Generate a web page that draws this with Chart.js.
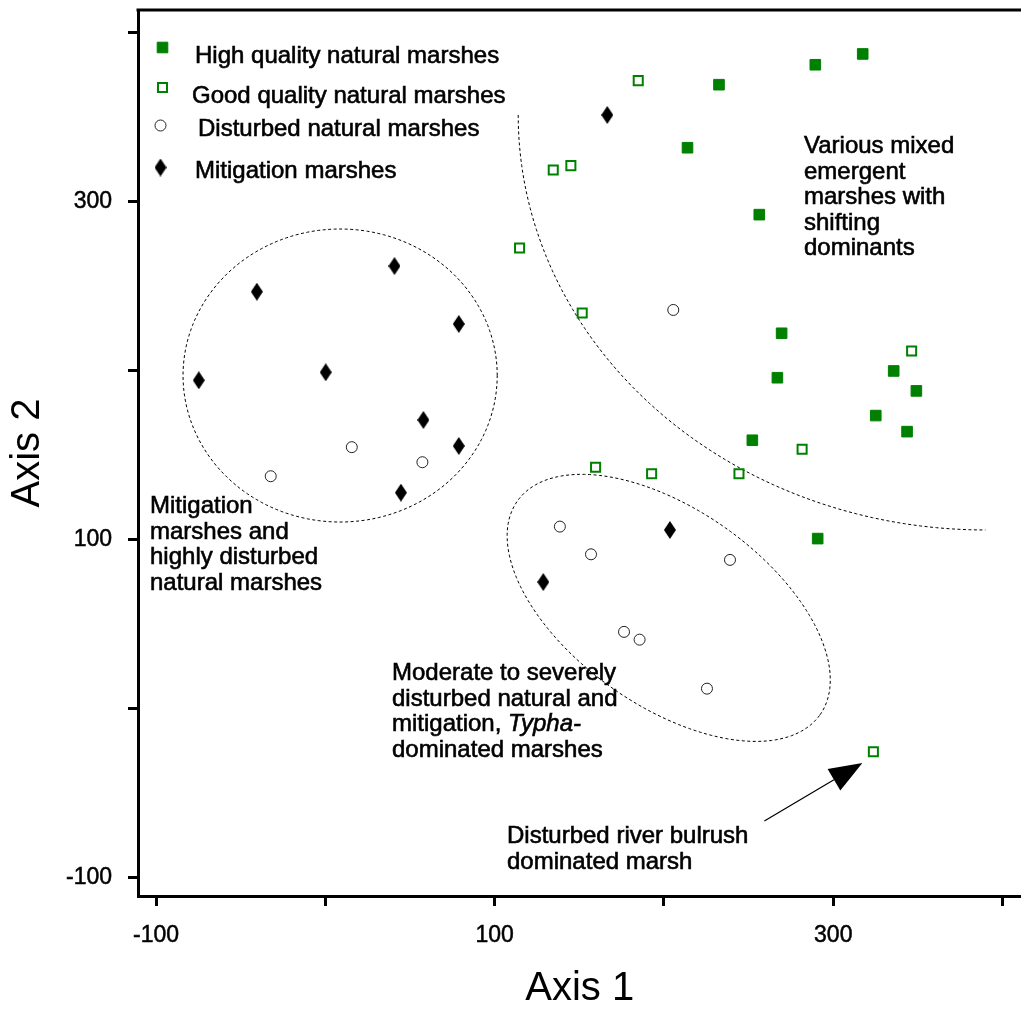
<!DOCTYPE html>
<html>
<head>
<meta charset="utf-8">
<script src="https://cdn.jsdelivr.net/npm/chart.js@4.4.1/dist/chart.umd.min.js"></script>
<style>
  html, body { margin: 0; padding: 0; background: #fff; overflow: hidden; }
  canvas { display: block; }
</style>
</head>
<body>
<!-- the plot frame runs off the right edge of the window -->
<canvas id="ordination" width="1030" height="1013"></canvas>
<script>
// site scores on the two ordination axes
const highX = [317.4, 289.4, 232.5, 213.9, 256.3, 269.5, 267.0, 335.7, 349.1, 325.1, 343.6, 252.2, 290.8];
const highY = [387.6, 381.2, 369.4, 332.1, 292.5, 222.3, 196.0, 200.0, 188.2, 173.6, 164.1, 159.0, 100.8];

const goodX = [184.8, 134.6, 145.0, 114.7, 151.7, 346.3, 281.6, 244.3, 192.7, 159.6, 323.7];
const goodY = [371.8, 318.9, 321.5, 272.8, 234.3, 211.8, 153.7, 139.2, 139.2, 143.0, -25.3];

const disturbedX = [205.5, 15.6, -32.3, 57.3, 138.5, 156.9, 239.0, 176.4, 185.6, 225.4];
const disturbedY = [236.1, 154.9, 137.7, 146.0, 107.9, 91.5, 88.2, 45.6, 41.0, 12.0];

const mitigationX = [166.5, 40.8, -40.5, 78.8, -74.8, 0.2, 57.9, 78.8, 44.6, 203.5, 128.7];
const mitigationY = [351.5, 262.1, 246.9, 227.8, 194.5, 199.2, 171.0, 155.6, 128.0, 105.9, 75.1];

const groupNames = ['High quality natural marshes', 'Good quality natural marshes',
                    'Disturbed natural marshes', 'Mitigation marshes'];

const xTickLabels = [-100, 100, 300];
const yTickLabels = [-100, 100, 300];

const FONT = '"Liberation Sans", Arial, Helvetica, sans-serif';
const GREEN = 'rgb(0,128,0)';

function toPoints(xs, ys) {
    return xs.map((x, i) => ({ x: x, y: ys[i] }));
}

// tall black diamond, canvas-based so it can be narrower than it is high
function diamondMarker(w, h) {
    const c = document.createElement('canvas');
    c.width = w;
    c.height = h;
    const g = c.getContext('2d');
    g.fillStyle = '#000';
    g.beginPath();
    g.moveTo(w / 2, 0);
    g.lineTo(w, h / 2);
    g.lineTo(w / 2, h);
    g.lineTo(0, h / 2);
    g.closePath();
    g.fill();
    return c;
}
const diamond = diamondMarker(12, 18);

const markerStyles = [
    { pointStyle: 'rect', radius: 7.5, borderWidth: 1, fill: GREEN, stroke: GREEN },
    { pointStyle: 'rect', radius: 6.4, borderWidth: 2, fill: '#fff', stroke: GREEN },
    { pointStyle: 'circle', radius: 5.5, borderWidth: 1, fill: '#fff', stroke: '#222' },
    { pointStyle: diamond, radius: 6, borderWidth: 0, fill: '#000', stroke: '#000' }
];

function makeDataset(i, xs, ys) {
    const m = markerStyles[i];
    return {
        label: groupNames[i],
        data: toPoints(xs, ys),
        pointStyle: m.pointStyle,
        pointRadius: m.radius,
        pointBorderWidth: m.borderWidth,
        pointBackgroundColor: m.fill,
        pointBorderColor: m.stroke
    };
}

// group outlines, in axis units
const leftCircle = { cx: 8.7, cy: 197.3, rx: 92.8, ry: 86.7 };
const midEllipse = { cx: 202.8, cy: 59.8, a: 109.5, b: 58, angle: -35.3 };
const upperArc = { cx: 389.9, cy: 351.5, rx: 276, ry: 245.6 };
const arrowTail = { x: 259.3, y: -66.3 };
const arrowTip = { x: 317.2, y: -32.0 };

// legend rows: marker centre, text start, text baseline (pixels)
const legendRows = [
    { mx: 162.5, my: 47.5, tx: 195, ty: 63 },
    { mx: 162.5, my: 87.5, tx: 192, ty: 103 },
    { mx: 160.5, my: 125.5, tx: 198, ty: 136 },
    { mx: 160.5, my: 167.5, tx: 195, ty: 178 }
];

// group descriptions; each line is a list of [text, italic]
const notes = [
    { x: 804, y: 153, lines: [[['Various mixed', false]], [['emergent', false]], [['marshes with', false]],
                              [['shifting', false]], [['dominants', false]]] },
    { x: 150, y: 513, lines: [[['Mitigation', false]], [['marshes and', false]], [['highly disturbed', false]],
                              [['natural marshes', false]]] },
    { x: 392, y: 680, lines: [[['Moderate to severely', false]], [['disturbed natural and', false]],
                              [['mitigation, ', false], ['Typha-', true]], [['dominated marshes', false]]] },
    { x: 507, y: 843, lines: [[['Disturbed river bulrush', false]], [['dominated marsh', false]]] }
];
const noteLineHeight = 25.5;

// filled text with a hairline stroke, a touch heavier than plain fillText
function heavyText(ctx, text, x, y) {
    ctx.strokeText(text, x, y);
    ctx.fillText(text, x, y);
}

function strokeDashed(chart, pts) {
    const ctx = chart.ctx;
    const xs = chart.scales.x, ys = chart.scales.y;
    ctx.save();
    ctx.strokeStyle = '#000';
    ctx.lineWidth = 1;
    ctx.setLineDash([3, 2.5]);
    ctx.beginPath();
    pts.forEach((p, i) => {
        const px = xs.getPixelForValue(p[0]);
        const py = ys.getPixelForValue(p[1]);
        if (i === 0) ctx.moveTo(px, py); else ctx.lineTo(px, py);
    });
    ctx.stroke();
    ctx.restore();
}

const overlay = {
    id: 'overlay',
    beforeDatasetsDraw(chart) {
        let pts = [];
        for (let k = 0; k <= 180; k++) {
            const t = k / 180 * Math.PI * 2;
            pts.push([leftCircle.cx + leftCircle.rx * Math.cos(t), leftCircle.cy + leftCircle.ry * Math.sin(t)]);
        }
        strokeDashed(chart, pts);

        pts = [];
        const phi = midEllipse.angle * Math.PI / 180;
        for (let k = 0; k <= 180; k++) {
            const t = k / 180 * Math.PI * 2;
            const u = midEllipse.a * Math.cos(t), v = midEllipse.b * Math.sin(t);
            pts.push([midEllipse.cx + u * Math.cos(phi) - v * Math.sin(phi),
                      midEllipse.cy + u * Math.sin(phi) + v * Math.cos(phi)]);
        }
        strokeDashed(chart, pts);

        pts = [];
        for (let k = 0; k <= 90; k++) {
            const t = Math.PI + k / 90 * Math.PI / 2;
            pts.push([upperArc.cx + upperArc.rx * Math.cos(t), upperArc.cy + upperArc.ry * Math.sin(t)]);
        }
        strokeDashed(chart, pts);
    },
    afterDraw(chart) {
        const ctx = chart.ctx;
        const area = chart.chartArea;
        const xs = chart.scales.x, ys = chart.scales.y;

        // top frame line
        ctx.save();
        ctx.strokeStyle = '#000';
        ctx.lineWidth = 3;
        ctx.beginPath();
        ctx.moveTo(area.left - 1.5, area.top);
        ctx.lineTo(area.right, area.top);
        ctx.stroke();
        ctx.restore();

        // legend
        ctx.save();
        ctx.font = '24px ' + FONT;
        ctx.textBaseline = 'alphabetic';
        legendRows.forEach((row, i) => {
            const m = markerStyles[i];
            ctx.fillStyle = m.fill;
            ctx.strokeStyle = m.stroke;
            ctx.lineWidth = m.borderWidth;
            Chart.helpers.drawPoint(ctx, {
                pointStyle: m.pointStyle, radius: m.radius, borderWidth: m.borderWidth, rotation: 0
            }, row.mx, row.my);
            ctx.fillStyle = '#000';
            ctx.strokeStyle = '#000';
            ctx.lineWidth = 0.6;
            heavyText(ctx, groupNames[i], row.tx, row.ty);
        });
        ctx.restore();

        // group descriptions
        ctx.save();
        ctx.fillStyle = '#000';
        ctx.strokeStyle = '#000';
        ctx.lineWidth = 0.6;
        ctx.textBaseline = 'alphabetic';
        notes.forEach(note => {
            note.lines.forEach((parts, li) => {
                let x = note.x;
                const y = note.y + li * noteLineHeight;
                parts.forEach(([text, italic]) => {
                    ctx.font = (italic ? 'italic ' : '') + '24px ' + FONT;
                    heavyText(ctx, text, x, y);
                    x += ctx.measureText(text).width;
                });
            });
        });
        ctx.restore();

        // arrow to the outlying site
        const x0 = xs.getPixelForValue(arrowTail.x), y0 = ys.getPixelForValue(arrowTail.y);
        const x1 = xs.getPixelForValue(arrowTip.x), y1 = ys.getPixelForValue(arrowTip.y);
        const ang = Math.atan2(y1 - y0, x1 - x0);
        const headLen = 33, headHalf = 12.5;
        const bx = x1 - headLen * Math.cos(ang), by = y1 - headLen * Math.sin(ang);
        ctx.save();
        ctx.strokeStyle = '#000';
        ctx.fillStyle = '#000';
        ctx.lineWidth = 1.2;
        ctx.beginPath();
        ctx.moveTo(x0, y0);
        ctx.lineTo(bx, by);
        ctx.stroke();
        ctx.beginPath();
        ctx.moveTo(x1, y1);
        ctx.lineTo(bx + headHalf * Math.sin(ang), by - headHalf * Math.cos(ang));
        ctx.lineTo(bx - headHalf * Math.sin(ang), by + headHalf * Math.cos(ang));
        ctx.closePath();
        ctx.fill();
        ctx.restore();
    }
};

const axisStyle = {
    border: { color: '#000', width: 3 },
    grid: { drawOnChartArea: false, tickLength: 10, tickWidth: 3, tickColor: '#000' }
};

const tickFont = { family: FONT, size: 23 };

const ctx = document.getElementById('ordination').getContext('2d');
const ordinationChart = new Chart(ctx, {
    type: 'scatter',
    data: {
        datasets: [
            makeDataset(0, highX, highY),
            makeDataset(1, goodX, goodY),
            makeDataset(2, disturbedX, disturbedY),
            makeDataset(3, mitigationX, mitigationY)
        ]
    },
    options: {
        responsive: false,
        devicePixelRatio: 1,
        animation: false,
        layout: { padding: { top: 10, right: 0, bottom: 0, left: 0 } },
        plugins: {
            legend: { display: false },
            tooltip: { enabled: false }
        },
        scales: {
            x: {
                type: 'linear',
                min: -110.7,
                max: 411.2,
                border: axisStyle.border,
                grid: axisStyle.grid,
                ticks: {
                    stepSize: 100,
                    includeBounds: false,
                    padding: 16,
                    color: '#000',
                    textStrokeColor: '#000',
                    textStrokeWidth: 0.5,
                    font: tickFont,
                    maxRotation: 0,
                    callback: v => xTickLabels.includes(v) ? String(v) : ''
                },
                title: {
                    display: true,
                    text: 'Axis 1',
                    color: '#000',
                    font: { family: FONT, size: 40 },
                    padding: { top: 0, bottom: 0 }
                },
                afterFit(scale) {
                    scale.height = 117;
                    scale.paddingLeft = 0;
                    scale.paddingRight = 0;
                }
            },
            y: {
                type: 'linear',
                min: -110.7,
                max: 413.6,
                border: axisStyle.border,
                grid: axisStyle.grid,
                ticks: {
                    stepSize: 100,
                    includeBounds: false,
                    padding: 16,
                    color: '#000',
                    textStrokeColor: '#000',
                    textStrokeWidth: 0.5,
                    font: tickFont,
                    callback: v => yTickLabels.includes(v) ? String(v) : ''
                },
                title: {
                    display: true,
                    text: 'Axis 2',
                    color: '#000',
                    font: { family: FONT, size: 40 },
                    padding: { top: 4, bottom: 0 }
                },
                afterFit(scale) {
                    scale.width = 138;
                    scale.paddingTop = 0;
                    scale.paddingBottom = 0;
                }
            }
        }
    },
    plugins: [overlay]
});
</script>
</body>
</html>
